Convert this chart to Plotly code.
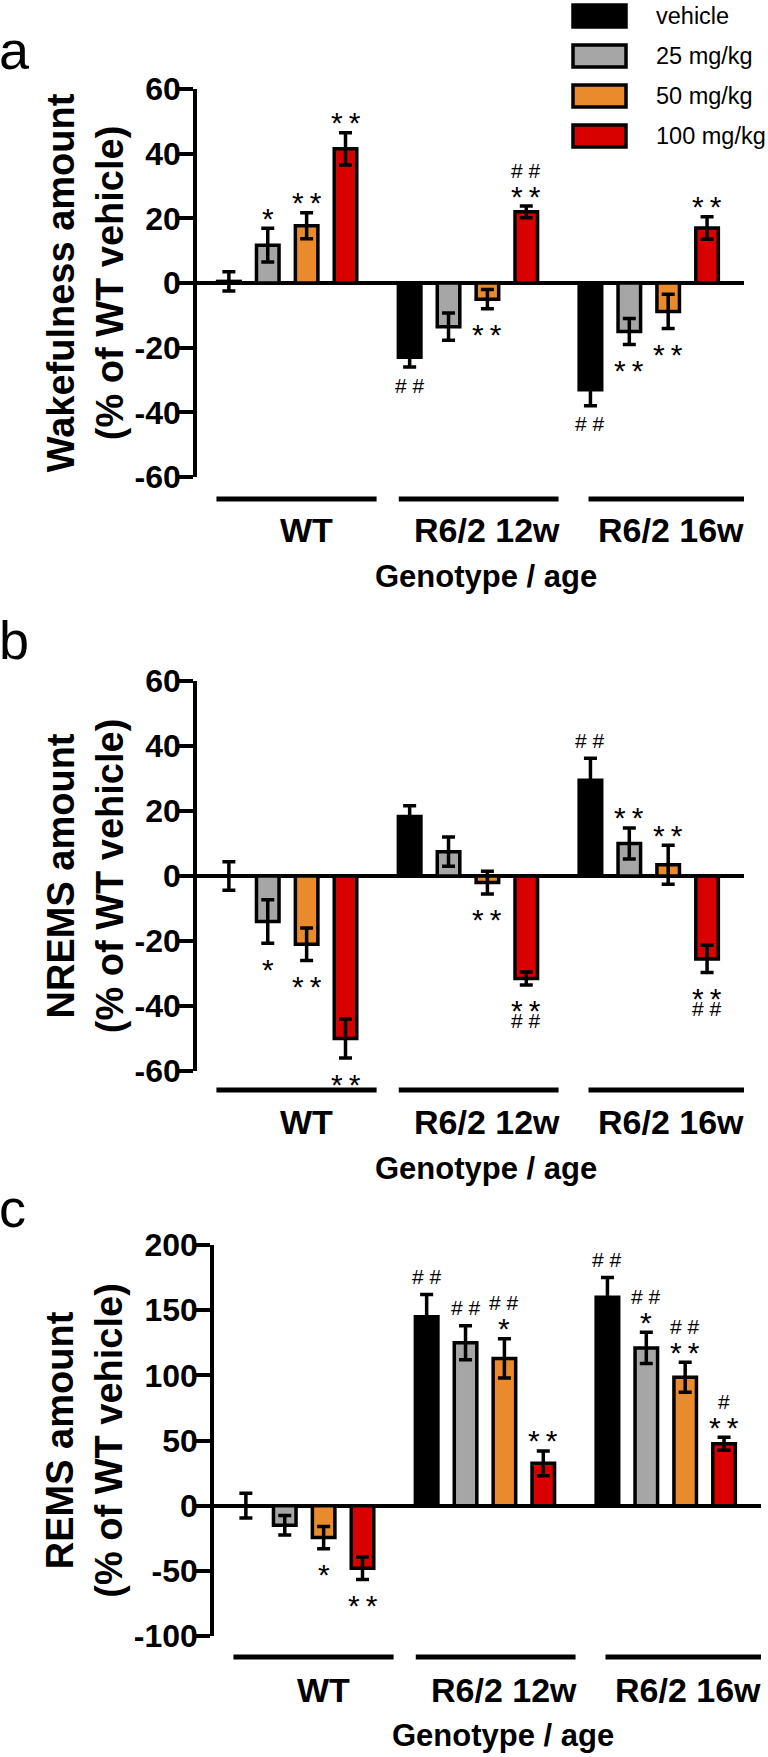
import plotly.graph_objects as go

W, H = 768, 1757
FONT = "Liberation Sans, Arial, sans-serif"

GROUPS = ["WT", "R6/2 12w", "R6/2 16w"]
DOSES = ["vehicle", "25 mg/kg", "50 mg/kg", "100 mg/kg"]
COLORS = ["#000000", "#A6A6A6", "#E98A2C", "#D90000"]

# values per dose (rows) for WT, R6/2 12w, R6/2 16w (columns)
WAKE_MEAN = [[0.5, -23, -33], [11.7, -13.5, -15], [17.7, -5, -8.8], [41.5, 22, 17]]
WAKE_SEM = [[3, 3, 5], [5.2, 4.2, 4], [4, 3, 5.3], [5, 1.8, 3.5]]
WAKE_SIG = [[[], ["##"], ["##"]],
            [["*"], [], ["**"]],
            [["**"], ["**"], ["**"]],
            [["**"], ["**", "##"], ["**"]]]

NREM_MEAN = [[0, 18.3, 29.5], [-14, 7.5, 10], [-21, -2, 3.5], [-50, -31.5, -25.5]]
NREM_SEM = [[4.4, 3.3, 6.7], [6.7, 4.5, 4.8], [5, 3.5, 6], [6, 2, 4.2]]
NREM_SIG = [[[], [], ["##"]],
            [["*"], [], ["**"]],
            [["**"], ["**"], ["**"]],
            [["**"], ["**", "##"], ["**", "##"]]]

REM_MEAN = [[0, 145, 160], [-15, 125, 121], [-24.5, 113, 98.5], [-48, 32.5, 47.5]]
REM_SEM = [[9.5, 17, 15], [7.5, 13, 12], [8.5, 15, 11.5], [8.7, 9.5, 5]]
REM_SIG = [[[], ["##"], ["##"]],
           [[], ["##"], ["*", "##"]],
           [["*"], ["*", "##"], ["**", "##"]],
           [["**"], ["**"], ["**", "#"]]]

WAKE_TICKS = [-60, -40, -20, 0, 20, 40, 60]
NREM_TICKS = [-60, -40, -20, 0, 20, 40, 60]
REM_TICKS = [-100, -50, 0, 50, 100, 150, 200]

GROUP_STEP = 4.65          # distance between groups, in bar slots
X_RANGE = [-0.82, 13.25]
LINE_SPANS = [(-0.32, 3.8), (-0.28, 3.83), (-0.05, 4.06)]
LABEL_OFFS = [2.0, 2.0, 2.08]


def px(x):
    return x / W


def py(y):
    return 1 - y / H


def bar_x(g, j):
    return g * GROUP_STEP + j


# panel: (suffix, mean, sem, sig, ticks, title, letter,
#         y_top, y_bot, x_left, x_right, y_groups, y_xtitle, y_line, y_letter)
PANELS = [
    ("", WAKE_MEAN, WAKE_SEM, WAKE_SIG, WAKE_TICKS, "Wakefulness amount", "a",
     89, 477, 197, 744, 530, 576, 499, 50),
    ("2", NREM_MEAN, NREM_SEM, NREM_SIG, NREM_TICKS, "NREMS amount", "b",
     681, 1071, 197, 744, 1122, 1168, 1090, 640),
    ("3", REM_MEAN, REM_SEM, REM_SIG, REM_TICKS, "REMS amount", "c",
     1245, 1636, 214, 761, 1690, 1735, 1657, 1208),
]

fig = go.Figure()
annotations = []
shapes = []

for (sfx, mean, sem, sig, ticks, title, letter, yt, yb, xl, xr,
     y_groups, y_xtitle, y_line, y_letter) in PANELS:
    xa, ya = "x" + sfx, "y" + sfx
    for j, dose in enumerate(DOSES):
        fig.add_trace(go.Bar(
            x=[bar_x(g, j) for g in range(3)], y=mean[j], name=dose,
            width=0.58, showlegend=False,
            marker=dict(color=COLORS[j], line=dict(color="black", width=3.5)),
            error_y=dict(type="data", array=sem[j], color="black",
                         thickness=3.5, width=6.5),
            xaxis=xa, yaxis=ya,
        ))
        # significance marks, stacked away from the bar
        for g in range(3):
            up = mean[j][g] >= 0
            y_end = mean[j][g] + (sem[j][g] if up else -sem[j][g])
            for k, mark in enumerate(sig[j][g]):
                shift = 18 * (k + 1) * (1 if up else -1)
                if "*" in mark:
                    shift -= 8
                    txt, size = "\u2009".join(mark), 30
                else:
                    txt, size = " ".join(mark), 21
                annotations.append(dict(
                    text=txt, x=bar_x(g, j), y=y_end, xref=xa, yref=ya,
                    yshift=shift, showarrow=False, xanchor="center",
                    yanchor="middle",
                    font=dict(family=FONT, size=size, color="black"),
                ))

    fig.layout["xaxis" + sfx] = dict(
        domain=[px(xl), px(xr)], range=X_RANGE, anchor=ya, automargin=False,
        showline=False, showticklabels=False, ticks="", showgrid=False,
        zeroline=False, fixedrange=True,
    )
    fig.layout["yaxis" + sfx] = dict(
        domain=[py(yb), py(yt)], range=[ticks[0], ticks[-1]], anchor=xa,
        automargin=False,
        tickvals=ticks, ticktext=[str(t) for t in ticks],
        showline=True, linewidth=3.5, linecolor="black",
        ticks="outside", ticklen=14, tickwidth=3.5, tickcolor="black",
        ticklabelstandoff=-8,
        tickfont=dict(family=FONT, size=32, color="black", weight="bold"),
        showgrid=False, zeroline=True, zerolinewidth=4, zerolinecolor="black",
        title=dict(text=f"{title}<br>(% of WT vehicle)", standoff=0,
                   font=dict(family=FONT, size=38, color="black", weight="bold")),
        fixedrange=True,
    )

    for g, name in enumerate(GROUPS):
        x0, x1 = LINE_SPANS[g]
        shapes.append(dict(type="line", xref=xa, yref="paper",
                           x0=bar_x(g, 0) + x0, x1=bar_x(g, 0) + x1,
                           y0=py(y_line), y1=py(y_line),
                           line=dict(color="black", width=5)))
        annotations.append(dict(
            text=f"<b>{name}</b>", x=bar_x(g, 0) + LABEL_OFFS[g], y=py(y_groups),
            xref=xa, yref="paper", showarrow=False, xanchor="center",
            yanchor="middle", font=dict(family=FONT, size=34, color="black"),
        ))
    annotations.append(dict(
        text="<b>Genotype / age</b>", x=6.62, y=py(y_xtitle), xref=xa,
        yref="paper", showarrow=False, xanchor="center", yanchor="middle",
        font=dict(family=FONT, size=31, color="black"),
    ))
    annotations.append(dict(
        text=letter, x=0, y=py(y_letter), xref="paper", yref="paper",
        xshift=-3, showarrow=False, xanchor="left", yanchor="middle",
        font=dict(family=FONT, size=54, color="black"),
    ))

# legend, drawn as swatches + labels at the top right
for j, dose in enumerate(DOSES):
    yc = 16 + 40 * j
    shapes.append(dict(type="rect", xref="paper", yref="paper",
                       x0=px(573), x1=px(626), y0=py(yc - 11), y1=py(yc + 11),
                       fillcolor=COLORS[j], line=dict(color="black", width=3.5)))
    annotations.append(dict(
        text=dose, x=px(654), y=py(yc), xref="paper", yref="paper",
        showarrow=False, xanchor="left", yanchor="middle",
        font=dict(family=FONT, size=23.5, color="black"),
    ))

fig.update_layout(
    template="none",
    width=W, height=H, margin=dict(l=0, r=0, t=0, b=0, autoexpand=False),
    paper_bgcolor="white", plot_bgcolor="white",
    font=dict(family=FONT, color="black"),
    barmode="overlay", showlegend=False,
    annotations=annotations, shapes=shapes,
)

# the page's default body margin would shift the figure by 8 px
fig.write_html("out.html", config={"displayModeBar": False},
               post_script="document.body.style.margin = '0';")
